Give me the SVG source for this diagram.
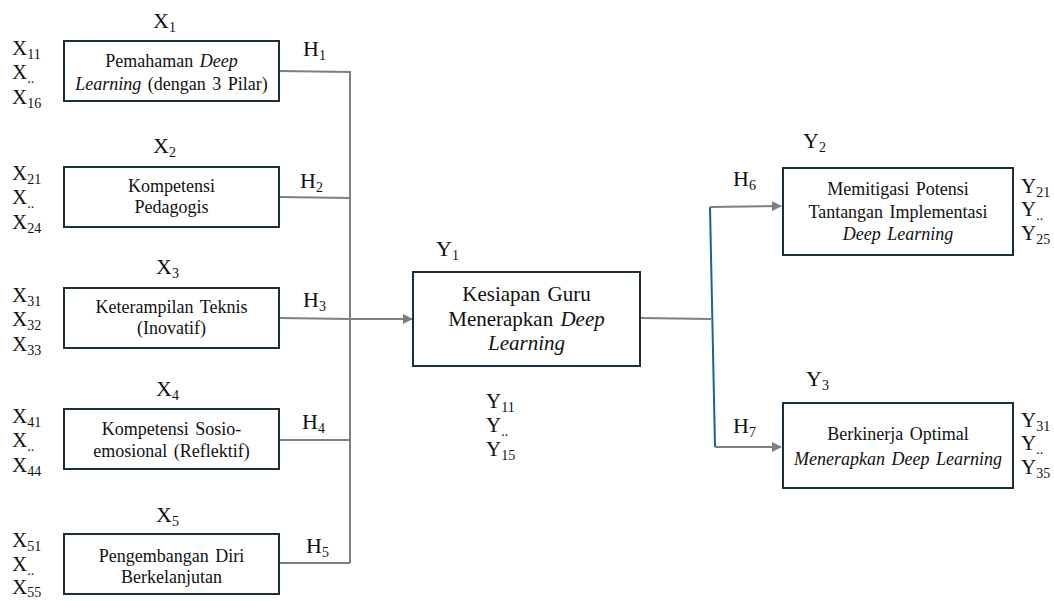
<svg xmlns="http://www.w3.org/2000/svg" width="1054" height="601" viewBox="0 0 1054 601">
  <style>
    .box { fill: #fff; stroke: #1b2f3c; stroke-width: 2; }
    .bt { font-family: "Liberation Serif", "Times New Roman", serif; font-size: 18px; word-spacing: 2px; text-anchor: middle; fill: #111; }
    .bt-lg { font-family: "Liberation Serif", "Times New Roman", serif; font-size: 21px; word-spacing: 2px; text-anchor: middle; fill: #111; }
    .lbl { font-family: "Liberation Serif", "Times New Roman", serif; font-size: 22px; fill: #111; }
    .ind { font-family: "Liberation Serif", "Times New Roman", serif; font-size: 21px; fill: #111; }
    .sub { font-size: 14px; }
    .it { font-style: italic; }
    .wire { fill: none; stroke: #7f7f7f; stroke-width: 2; }
    .wire-b { fill: none; stroke: #1f6391; stroke-width: 2; }
  </style>
  <defs>
    <marker id="arrow" viewBox="0 0 10 10" refX="9" refY="5" markerWidth="5" markerHeight="5" orient="auto" markerUnits="strokeWidth">
      <path d="M0,0 L10,5 L0,10 z" fill="#7f7f7f"/>
    </marker>
  </defs>

  <!-- connectors: five inputs merge on a bus into Y1, Y1 splits to Y2 and Y3 -->
  <g id="connectors">
    <polyline class="wire" points="279,71 350,72 350,563"/>
    <line class="wire" x1="279" y1="197" x2="350" y2="198"/>
    <line class="wire" x1="279" y1="318" x2="350" y2="319"/>
    <line class="wire" x1="279" y1="440" x2="350" y2="440"/>
    <line class="wire" x1="279" y1="563" x2="350" y2="563"/>
    <line class="wire" x1="350" y1="319" x2="412" y2="319" marker-end="url(#arrow)"/>
    <line class="wire" x1="640" y1="318" x2="711" y2="319"/>
    <line class="wire-b" x1="710" y1="207" x2="715" y2="447"/>
    <line class="wire" x1="710" y1="207" x2="781" y2="206" marker-end="url(#arrow)"/>
    <line class="wire" x1="715" y1="447" x2="781" y2="447" marker-end="url(#arrow)"/>
    <text class="lbl" x="303" y="56">H<tspan class="sub" dy="4">1</tspan></text>
    <text class="lbl" x="300" y="188">H<tspan class="sub" dy="4">2</tspan></text>
    <text class="lbl" x="303" y="307">H<tspan class="sub" dy="4">3</tspan></text>
    <text class="lbl" x="302" y="429">H<tspan class="sub" dy="4">4</tspan></text>
    <text class="lbl" x="306" y="553">H<tspan class="sub" dy="4">5</tspan></text>
    <text class="lbl" x="733" y="186">H<tspan class="sub" dy="4">6</tspan></text>
    <text class="lbl" x="733" y="433">H<tspan class="sub" dy="4">7</tspan></text>
  </g>

  <!-- X1 -->
  <g id="x1">
    <text class="lbl" x="153" y="28">X<tspan class="sub" dy="4">1</tspan></text>
    <text class="ind" x="12" y="55">X<tspan class="sub" dy="4">11</tspan></text>
    <text class="ind" x="12" y="79">X<tspan class="sub" dy="4">..</tspan></text>
    <text class="ind" x="12" y="104">X<tspan class="sub" dy="4">16</tspan></text>
    <rect class="box" x="64" y="41" width="215" height="60"/>
    <text class="bt" x="171.5" y="67">Pemahaman <tspan class="it">Deep</tspan></text>
    <text class="bt" x="171.5" y="90"><tspan class="it">Learning</tspan> (dengan 3 Pilar)</text>
  </g>

  <!-- X2 -->
  <g id="x2">
    <text class="lbl" x="153" y="153">X<tspan class="sub" dy="4">2</tspan></text>
    <text class="ind" x="12" y="180">X<tspan class="sub" dy="4">21</tspan></text>
    <text class="ind" x="12" y="204">X<tspan class="sub" dy="4">..</tspan></text>
    <text class="ind" x="12" y="229">X<tspan class="sub" dy="4">24</tspan></text>
    <rect class="box" x="64" y="167" width="215" height="60"/>
    <text class="bt" x="171.5" y="192">Kompetensi</text>
    <text class="bt" x="171.5" y="213">Pedagogis</text>
  </g>

  <!-- X3 -->
  <g id="x3">
    <text class="lbl" x="156" y="274">X<tspan class="sub" dy="4">3</tspan></text>
    <text class="ind" x="12" y="302">X<tspan class="sub" dy="4">31</tspan></text>
    <text class="ind" x="12" y="326">X<tspan class="sub" dy="4">32</tspan></text>
    <text class="ind" x="12" y="351">X<tspan class="sub" dy="4">33</tspan></text>
    <rect class="box" x="64" y="288" width="215" height="60"/>
    <text class="bt" x="171.5" y="313">Keterampilan Teknis</text>
    <text class="bt" x="171.5" y="334">(Inovatif)</text>
  </g>

  <!-- X4 -->
  <g id="x4">
    <text class="lbl" x="156" y="396">X<tspan class="sub" dy="4">4</tspan></text>
    <text class="ind" x="12" y="423">X<tspan class="sub" dy="4">41</tspan></text>
    <text class="ind" x="12" y="447">X<tspan class="sub" dy="4">..</tspan></text>
    <text class="ind" x="12" y="472">X<tspan class="sub" dy="4">44</tspan></text>
    <rect class="box" x="64" y="409" width="215" height="60"/>
    <text class="bt" x="171.5" y="435" word-spacing="5">Kompetensi Sosio-</text>
    <text class="bt" x="171.5" y="457">emosional (Reflektif)</text>
  </g>

  <!-- X5 -->
  <g id="x5">
    <text class="lbl" x="156" y="522">X<tspan class="sub" dy="4">5</tspan></text>
    <text class="ind" x="12" y="547">X<tspan class="sub" dy="4">51</tspan></text>
    <text class="ind" x="12" y="571">X<tspan class="sub" dy="4">..</tspan></text>
    <text class="ind" x="12" y="594">X<tspan class="sub" dy="3">55</tspan></text>
    <rect class="box" x="64" y="534" width="215" height="60"/>
    <text class="bt" x="171.5" y="562">Pengembangan Diri</text>
    <text class="bt" x="171.5" y="583">Berkelanjutan</text>
  </g>

  <!-- Y1 -->
  <g id="y1">
    <text class="lbl" x="436" y="256">Y<tspan class="sub" dy="4">1</tspan></text>
    <rect class="box" x="413" y="272" width="227" height="94"/>
    <text class="bt-lg" x="526.5" y="301">Kesiapan Guru</text>
    <text class="bt-lg" x="526.5" y="326">Menerapkan <tspan class="it">Deep</tspan></text>
    <text class="bt-lg it" x="526.5" y="350">Learning</text>
    <text class="ind" x="486" y="408">Y<tspan class="sub" dy="4">11</tspan></text>
    <text class="ind" x="486" y="432">Y<tspan class="sub" dy="4">..</tspan></text>
    <text class="ind" x="486" y="456">Y<tspan class="sub" dy="4">15</tspan></text>
  </g>

  <!-- Y2 -->
  <g id="y2">
    <text class="lbl" x="803" y="148">Y<tspan class="sub" dy="4">2</tspan></text>
    <rect class="box" x="783" y="168" width="230" height="87"/>
    <text class="bt" x="898" y="195">Memitigasi Potensi</text>
    <text class="bt" x="898" y="218">Tantangan Implementasi</text>
    <text class="bt it" x="898" y="240">Deep Learning</text>
    <text class="ind" x="1021" y="193">Y<tspan class="sub" dy="4">21</tspan></text>
    <text class="ind" x="1021" y="216">Y<tspan class="sub" dy="4">..</tspan></text>
    <text class="ind" x="1021" y="240">Y<tspan class="sub" dy="4">25</tspan></text>
  </g>

  <!-- Y3 -->
  <g id="y3">
    <text class="lbl" x="806" y="386">Y<tspan class="sub" dy="4">3</tspan></text>
    <rect class="box" x="783" y="403" width="230" height="85"/>
    <text class="bt" x="898" y="440">Berkinerja Optimal</text>
    <text class="bt it" x="898" y="465">Menerapkan Deep Learning</text>
    <text class="ind" x="1021" y="427">Y<tspan class="sub" dy="4">31</tspan></text>
    <text class="ind" x="1021" y="450">Y<tspan class="sub" dy="4">..</tspan></text>
    <text class="ind" x="1021" y="474">Y<tspan class="sub" dy="4">35</tspan></text>
  </g>
</svg>
